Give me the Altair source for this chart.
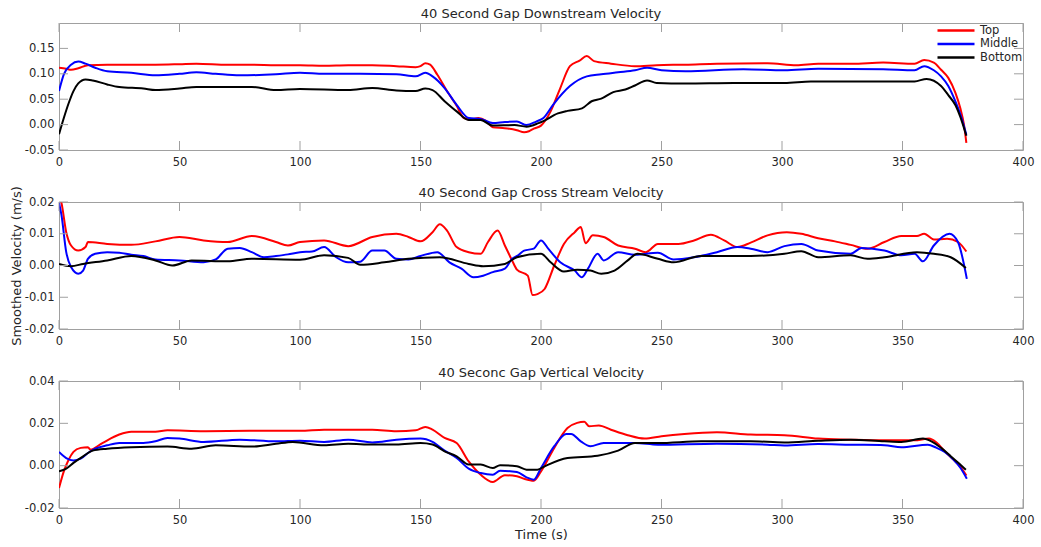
import altair as alt
import pandas as pd

# ---------------- data ----------------
SERIES = ["Top", "Middle", "Bottom"]
COLORS = ["#ff0000", "#0000ff", "#000000"]
X_TICKS = [0, 50, 100, 150, 200, 250, 300, 350, 400]

# Panel 1 : downstream velocity
P1_TOP_T = [0, 3, 5, 8, 12, 20, 30, 40, 50, 57, 70, 80, 90, 100, 110, 120, 130, 140, 148, 150,
            152, 154, 157, 161, 165, 168, 171, 174, 177, 180, 185, 190, 193, 195, 197, 200, 204, 208, 212, 216,
            219, 222, 229, 239, 248, 260, 273, 294, 306, 315, 329, 342, 355, 359, 363, 366, 369, 372, 374, 375.5, 376.5]
P1_TOP_V = [0.112, 0.110, 0.108, 0.111, 0.117, 0.118, 0.118, 0.118, 0.119, 0.120, 0.118, 0.118, 0.117, 0.117, 0.116, 0.117, 0.117, 0.115, 0.113, 0.115,
            0.121, 0.118, 0.098, 0.066, 0.037, 0.013, 0.010, 0.013, 0.008, -0.005, -0.007, -0.011, -0.015, -0.013, -0.008, -0.002, 0.026, 0.072, 0.115, 0.126,
            0.135, 0.125, 0.120, 0.115, 0.117, 0.118, 0.120, 0.121, 0.117, 0.120, 0.120, 0.122, 0.120, 0.127, 0.122, 0.108, 0.092, 0.062, 0.032, 0.000, -0.036]
P1_MID_T = [0, 2, 5, 8, 11, 15, 20, 30, 40, 50, 57, 65, 75, 90, 100, 110, 125, 140, 148, 152,
            155, 160, 165, 170, 175, 180, 185, 190, 194, 198, 201, 205, 212, 219, 225, 232, 239, 244, 250, 260,
            284, 301, 315, 342, 355, 359, 363, 366, 369, 372, 374, 376.5]
P1_MID_V = [0.066, 0.099, 0.118, 0.124, 0.120, 0.112, 0.105, 0.102, 0.097, 0.100, 0.103, 0.100, 0.097, 0.099, 0.102, 0.100, 0.100, 0.099, 0.095, 0.102,
            0.095, 0.072, 0.039, 0.013, 0.011, 0.003, 0.005, 0.006, -0.001, 0.006, 0.013, 0.039, 0.076, 0.095, 0.099, 0.103, 0.107, 0.112, 0.107, 0.105,
            0.109, 0.107, 0.110, 0.109, 0.107, 0.115, 0.107, 0.095, 0.076, 0.045, 0.020, -0.020]
P1_BOT_T = [0, 2, 4, 6, 8, 11, 14, 20, 25, 35, 40, 50, 57, 80, 90, 100, 120, 130, 140, 148,
            152, 155, 160, 165, 170, 175, 180, 189, 194, 199, 201, 207, 211, 217, 221, 225, 230, 235, 239, 244,
            248, 260, 280, 301, 312, 329, 342, 355, 360, 366, 369, 372, 374, 376.5]
P1_BOT_V = [-0.019, 0.013, 0.042, 0.066, 0.081, 0.089, 0.087, 0.079, 0.074, 0.071, 0.068, 0.071, 0.074, 0.074, 0.068, 0.070, 0.068, 0.072, 0.067, 0.066,
            0.071, 0.068, 0.046, 0.026, 0.009, 0.009, -0.002, -0.001, -0.004, 0.003, 0.007, 0.022, 0.027, 0.032, 0.046, 0.051, 0.064, 0.069, 0.077, 0.087,
            0.082, 0.081, 0.082, 0.082, 0.085, 0.085, 0.085, 0.085, 0.090, 0.076, 0.058, 0.038, 0.015, -0.022]

# Panel 2 : cross stream velocity
P2_TOP_T = [0, 1, 3, 5, 8, 11, 12, 20, 30, 40, 50, 60, 70, 80, 90, 95, 100, 110, 120, 130,
            140, 145, 150, 155, 158, 161, 165, 170, 175, 178, 182, 185, 188, 190,
            194.5, 196.5, 198.5, 201.5, 205.5, 209.5, 214, 216.5, 218.5, 221.5, 226, 232, 239, 243.5, 248.5,
            257, 263.5, 270.5, 276, 281.5, 287, 294, 302, 308, 315, 322, 328.5, 335.5, 342.5, 349.5,
            356, 359, 363, 368.5, 373, 376.5]
P2_TOP_V = [0.022, 0.0198, 0.0105, 0.0063, 0.0047, 0.0058, 0.0074, 0.0068, 0.0065, 0.0076, 0.009, 0.0079, 0.0074, 0.0093, 0.0074, 0.0063, 0.0074, 0.0079, 0.0061, 0.009,
            0.010, 0.0090, 0.0076, 0.0105, 0.013, 0.011, 0.0058, 0.0042, 0.0037, 0.0074, 0.011, 0.0063, 0.0016, -0.0013,
            -0.0032, -0.0093, -0.009, -0.0074, 0.0, 0.0068, 0.0105, 0.0121, 0.007, 0.0095, 0.009, 0.0063, 0.0053, 0.0042, 0.0068,
            0.0068, 0.0079, 0.0097, 0.0079, 0.0058, 0.0072, 0.0095, 0.0105, 0.010, 0.0086, 0.0076, 0.0065, 0.0053, 0.0074, 0.0093,
            0.0093, 0.010, 0.0082, 0.0084, 0.0074, 0.0044]
P2_MID_T = [0, 1, 3, 5, 8, 10, 12, 15, 20, 25, 30, 35, 40, 50, 60, 65, 70, 75, 80, 85,
            90, 95, 100, 105, 110, 115, 120, 125, 130, 135, 140, 145, 150, 157, 162, 167, 172, 176, 180, 185,
            188, 190.5, 193, 197, 200, 203, 208, 214, 217, 219.5, 223.5, 226, 232, 239, 248.5, 255, 263.5, 273, 281.5, 287,
            294, 301, 308, 315, 328.5, 333, 342.5, 349.5, 355, 358.5, 363, 369.5, 373, 376.7]
P2_MID_V = [0.0198, 0.016, 0.0042, -0.0005, -0.0026, -0.0016, 0.0021, 0.0037, 0.0042, 0.0040, 0.0034, 0.0030, 0.0019, 0.0016, 0.0010, 0.0019, 0.0053, 0.0055, 0.0042, 0.0026,
            0.0030, 0.0035, 0.0042, 0.0044, 0.0058, 0.0026, 0.0010, 0.0012, 0.0047, 0.0047, 0.0021, 0.0019, 0.0030, 0.0042, 0.0010, -0.0010, -0.0037, -0.0032, -0.0021, -0.0010,
            0.0021, 0.0032, 0.0047, 0.0053, 0.0079, 0.0053, 0.0010, -0.0016, -0.0037, -0.0010, 0.0037, 0.0016, 0.0042, 0.0034, 0.0040, 0.0019, 0.0026, 0.0042, 0.0058, 0.0053,
            0.0042, 0.0061, 0.0068, 0.0047, 0.0037, 0.0055, 0.0047, 0.0032, 0.0037, 0.0013, 0.0063, 0.0100, 0.0074, -0.0042]
P2_BOT_T = [0, 5, 10, 20, 30, 40, 47, 55, 70, 80, 100, 110, 120, 125, 135, 145, 158, 170, 176, 185,
            190, 200, 204, 209.5, 215, 220.5, 225, 230.5, 236, 240, 248.5, 255, 266.5, 287, 301, 308, 315, 328.5, 335.5, 342.5,
            356, 363, 370, 376.3]
P2_BOT_V = [0.0005, -0.0002, 0.0005, 0.0016, 0.0030, 0.0016, 0.0, 0.0016, 0.0013, 0.0021, 0.0018, 0.0032, 0.0024, 0.0002, 0.0010, 0.0021, 0.0026, 0.0005, -0.0002, 0.0005,
            0.0026, 0.0037, 0.0010, -0.0019, -0.0013, -0.0016, -0.0026, -0.0016, 0.0016, 0.0037, 0.0021, 0.0010, 0.0030, 0.0030, 0.0037, 0.0045, 0.0026, 0.0032, 0.0021, 0.0026,
            0.0042, 0.0037, 0.0026, -0.0008]

# Panel 3 : vertical velocity
P3_TOP_T = [0, 2, 4, 6, 9, 12, 13, 18, 25, 30, 40, 45, 60, 80, 100, 110, 130, 140, 148, 152,
            155, 160, 165, 170, 175, 180, 185, 190, 193, 197, 200, 205.5, 211, 215, 218, 220, 224, 229, 236, 243,
            250, 259.5, 273, 287, 301, 315, 328.5, 342.5, 355, 361, 364, 367.5, 371, 374, 376.5]
P3_TOP_V = [-0.0106, -0.0027, 0.0028, 0.0065, 0.0084, 0.0087, 0.0076, 0.0107, 0.0147, 0.016, 0.016, 0.0167, 0.0163, 0.0165, 0.0165, 0.017, 0.017, 0.0163, 0.0167, 0.0183,
            0.017, 0.0131, 0.0107, 0.002, -0.0043, -0.0077, -0.0045, -0.005, -0.0062, -0.0071, -0.0027, 0.0084, 0.0178, 0.0202, 0.0207, 0.0186, 0.019, 0.017, 0.0144, 0.0128,
            0.0139, 0.015, 0.0158, 0.0147, 0.0144, 0.0128, 0.0123, 0.012, 0.012, 0.0128, 0.011, 0.0068, 0.003, -0.0005, -0.0047]
P3_MID_T = [0, 3, 6, 9, 12, 15, 20, 25, 35, 40, 45, 50, 60, 75, 90, 100, 110, 120, 130, 140,
            150, 155, 160, 165, 170, 175, 180, 183, 190, 194, 197, 200, 205.5, 210.5, 212.5, 216.5, 220.5, 226, 239, 248.5,
            273, 294, 301, 315, 328.5, 342.5, 349.5, 360.5, 364, 367.5, 371, 374, 376.7]
P3_MID_V = [0.0065, 0.0036, 0.0025, 0.0033, 0.006, 0.008, 0.0096, 0.0107, 0.0107, 0.0115, 0.0131, 0.0128, 0.0112, 0.0123, 0.0115, 0.0118, 0.0112, 0.0123, 0.011, 0.0123,
            0.0128, 0.0112, 0.0071, 0.0036, -0.0014, -0.0035, -0.0043, -0.0024, -0.003, -0.0055, -0.0066, -0.0011, 0.0092, 0.015, 0.015, 0.0115, 0.0092, 0.0107, 0.0107, 0.0099,
            0.0104, 0.0099, 0.0095, 0.0102, 0.0099, 0.0097, 0.0087, 0.0099, 0.0085, 0.0065, 0.003, -0.001, -0.0062]
P3_BOT_T = [0, 3, 6, 10, 14, 20, 30, 45, 55, 65, 80, 90, 97, 110, 120, 130, 140, 150, 155, 160,
            165, 170, 175, 180, 183, 190, 194, 198.5, 201.5, 211, 223.5, 232, 239, 248.5, 266.5, 287, 301, 315, 328.5, 342.5,
            349.5, 358.5, 362, 366, 370, 373, 376.3]
P3_BOT_V = [-0.0027, -0.0014, 0.0013, 0.0044, 0.0071, 0.008, 0.0087, 0.009, 0.008, 0.0096, 0.009, 0.0103, 0.0112, 0.0096, 0.0103, 0.010, 0.010, 0.0107, 0.010, 0.0068,
            0.0044, 0.0005, 0.0005, -0.0011, 0.0002, -0.0003, -0.0019, -0.0019, -0.0003, 0.0036, 0.0047, 0.0071, 0.0107, 0.0107, 0.0115, 0.0115, 0.011, 0.0118, 0.0123, 0.0115,
            0.0112, 0.0128, 0.0115, 0.0084, 0.0045, 0.0015, -0.0019]

TITLES = ["40 Second Gap Downstream Velocity",
          "40 Second Gap Cross Stream Velocity",
          "40 Seconc Gap Vertical Velocity"]
Y_DOMAINS = [[-0.05, 0.2], [-0.02, 0.02], [-0.02, 0.04]]
Y_TICKS = [[-0.05, 0.0, 0.05, 0.10, 0.15],
           [-0.02, -0.01, 0.0, 0.01, 0.02],
           [-0.02, 0.0, 0.02, 0.04]]

# ---------------- styling ----------------
W, H = 964, 127
FONT = "DejaVu Sans"
TXT = "#262626"
BOX = "#a0a0a0"
TICK_LEN = 9


def panel(series, title, ydom, yticks, ytitle=None, xtitle=None, legend=False, title_offset=2):
    rows = []
    for name, (ts, vs) in zip(SERIES, series):
        for t, v in zip(ts, vs):
            rows.append({"series": name, "t": t, "v": v})
    df = pd.DataFrame(rows)
    xs = alt.Scale(domain=[0, 400], nice=False, zero=False)
    ys = alt.Scale(domain=ydom, nice=False, zero=False)
    xax = alt.Axis(values=X_TICKS, title=xtitle, ticks=False, domain=False, labelFlush=False,
                   labelPadding=6, grid=False, titlePadding=3)
    yax = alt.Axis(values=yticks, format=".2f", labelExpr="replace(datum.label, '\u2212', '-')",
                   title=ytitle, ticks=False, domain=False,
                   labelPadding=5, grid=False, titlePadding=1)

    if legend:
        leg = alt.Legend(title=None, orient="none", legendX=877, legendY=1,
                         symbolType="M-1,0L6.4,0", symbolSize=100, symbolStrokeWidth=2.5,
                         labelFont=FONT, labelFontSize=11.5, labelColor=TXT,
                         labelOffset=31, rowPadding=1.5, padding=0)
    else:
        leg = None

    lines = alt.Chart(df).mark_line(strokeWidth=2, interpolate="monotone", clip=True).encode(
        x=alt.X("t:Q", scale=xs, axis=xax),
        y=alt.Y("v:Q", scale=ys, axis=yax),
        color=alt.Color("series:N", scale=alt.Scale(domain=SERIES, range=COLORS), legend=leg),
        detail="series:N",
    )

    xt = pd.DataFrame({"t": X_TICKS})
    yt = pd.DataFrame({"v": yticks})
    rule = dict(color=BOX, strokeWidth=1)
    xb = alt.Chart(xt).mark_rule(**rule).encode(
        x=alt.X("t:Q", scale=xs, axis=xax), y=alt.value(H), y2=alt.value(H - TICK_LEN))
    xtop = alt.Chart(xt).mark_rule(**rule).encode(
        x=alt.X("t:Q", scale=xs, axis=xax), y=alt.value(0), y2=alt.value(TICK_LEN))
    yl = alt.Chart(yt).mark_rule(**rule).encode(
        y=alt.Y("v:Q", scale=ys, axis=yax), x=alt.value(0), x2=alt.value(TICK_LEN))
    yr = alt.Chart(yt).mark_rule(**rule).encode(
        y=alt.Y("v:Q", scale=ys, axis=yax), x=alt.value(W), x2=alt.value(W - TICK_LEN))

    return alt.layer(lines, xb, xtop, yl, yr).properties(
        width=W, height=H,
        title=alt.TitleParams(title, font=FONT, fontSize=13, fontWeight="normal",
                              color=TXT, offset=title_offset, anchor="middle"),
    )


p1 = panel([(P1_TOP_T, P1_TOP_V), (P1_MID_T, P1_MID_V), (P1_BOT_T, P1_BOT_V)],
           TITLES[0], Y_DOMAINS[0], Y_TICKS[0], legend=True)
p2 = panel([(P2_TOP_T, P2_TOP_V), (P2_MID_T, P2_MID_V), (P2_BOT_T, P2_BOT_V)],
           TITLES[1], Y_DOMAINS[1], Y_TICKS[1], ytitle="Smoothed Velocity (m/s)", title_offset=-14)
p3 = panel([(P3_TOP_T, P3_TOP_V), (P3_MID_T, P3_MID_V), (P3_BOT_T, P3_BOT_V)],
           TITLES[2], Y_DOMAINS[2], Y_TICKS[2], xtitle="Time (s)", title_offset=-5)

chart = alt.vconcat(p1, p2, p3, spacing=52, bounds="flush").resolve_legend(color="independent").properties(
    padding={"left": 9, "top": 7, "right": 4, "bottom": 3},
    background="white",
).configure_view(stroke=BOX, strokeWidth=1).configure_axis(
    labelFont=FONT, labelFontSize=11.5, labelColor=TXT,
    titleFont=FONT, titleFontSize=13, titleColor=TXT, titleFontWeight="normal",
)

chart.save("out.html", embed_options={"renderer": "svg", "actions": False})
